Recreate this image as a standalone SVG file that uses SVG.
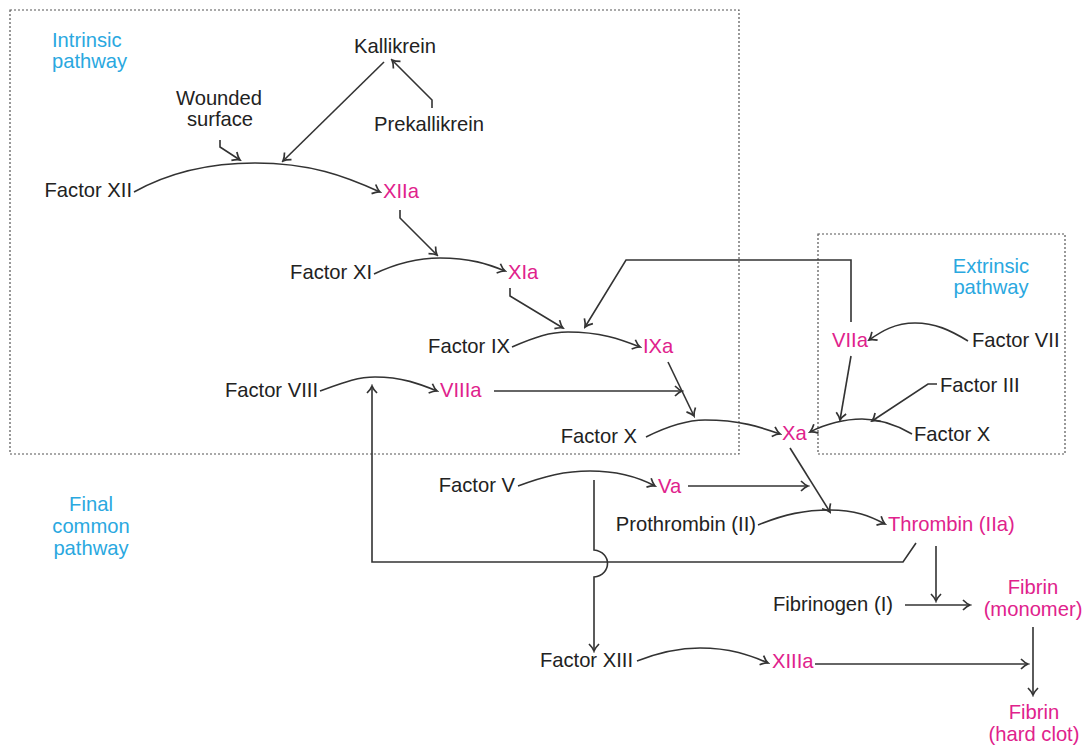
<svg xmlns="http://www.w3.org/2000/svg" width="1090" height="746" viewBox="0 0 1090 746">
<style>
text{font-family:"Liberation Sans",Arial,sans-serif;font-size:20.2px;fill:#222}
.m{fill:#e0228c}
.c{fill:#2aa8df}
.box{fill:none;stroke:#555;stroke-width:1.2;stroke-dasharray:2 2}
.ln{fill:none;stroke:#333;stroke-width:1.6}
.e{text-anchor:end}
.mid{text-anchor:middle}
</style>
<defs>
<marker id="ah" viewBox="-10 -7 12 14" refX="0" refY="0" markerWidth="12" markerHeight="14" markerUnits="userSpaceOnUse" orient="auto">
<path d="M-7,-5 Q-3,-1 0,0 Q-3,1 -7,5" fill="none" stroke="#333" stroke-width="1.7"/>
</marker>
</defs>
<rect width="1090" height="746" fill="#fff"/>
<g id="boxes">
<rect class="box" x="10" y="10" width="729" height="444"/>
<rect class="box" x="818" y="234" width="247" height="220"/>
</g>
<g id="labels">
<text class="c" x="52" y="47">Intrinsic</text>
<text class="c" x="52" y="68">pathway</text>
<text class="c mid" x="991" y="273">Extrinsic</text>
<text class="c mid" x="991" y="294">pathway</text>
<text class="c mid" x="91" y="511">Final</text>
<text class="c mid" x="91" y="533">common</text>
<text class="c mid" x="91" y="555">pathway</text>
</g>
<g id="connectors">
<path class="ln" d="M220,140 L220,147 L240,160" marker-end="url(#ah)"/>
<path class="ln" d="M384,62 L283,161" marker-end="url(#ah)"/>
<path class="ln" d="M432,108 L432,100 L392,60" marker-end="url(#ah)"/>
<path class="ln" d="M134,192 C170,172 210,163 255,163 C310,163 345,176 380,192" marker-end="url(#ah)"/>
<path class="ln" d="M400,210 L400,218 L437,255" marker-end="url(#ah)"/>
<path class="ln" d="M374,274 C395,264 415,258 440,258 C470,258 488,264 505,271" marker-end="url(#ah)"/>
<path class="ln" d="M510,288 L510,296 L563,328" marker-end="url(#ah)"/>
<path class="ln" d="M851,322 L851,260 L626,260 L585,327" marker-end="url(#ah)"/>
<path class="ln" d="M512,347 C535,337 550,332 568,332 C600,332 620,339 640,347" marker-end="url(#ah)"/>
<path class="ln" d="M320,391 C345,382 358,377 375,377 C402,377 420,384 437,391" marker-end="url(#ah)"/>
<path class="ln" d="M494,391 L682,391" marker-end="url(#ah)"/>
<path class="ln" d="M668,362 L694,416" marker-end="url(#ah)"/>
<path class="ln" d="M646,437 C670,425 688,420 705,420 C740,420 760,427 780,434" marker-end="url(#ah)"/>
<path class="ln" d="M968,341 C950,330 935,323 915,323 C895,323 882,331 869,340" marker-end="url(#ah)"/>
<path class="ln" d="M851,356 L840,420" marker-end="url(#ah)"/>
<path class="ln" d="M937,384 L928,384 L872,421" marker-end="url(#ah)"/>
<path class="ln" d="M912,434 C895,424 880,419 862,419 C845,419 825,424 810,432" marker-end="url(#ah)"/>
<path class="ln" d="M790,448 L830,512" marker-end="url(#ah)"/>
<path class="ln" d="M518,486 C545,476 565,471 590,471 C620,471 640,478 655,486" marker-end="url(#ah)"/>
<path class="ln" d="M688,486 L808,486" marker-end="url(#ah)"/>
<path class="ln" d="M758,525 C785,514 805,510 830,510 C855,510 870,516 885,524" marker-end="url(#ah)"/>
<path class="ln" d="M916,543 L903,562 L372,562 L372,386" marker-end="url(#ah)"/>
<path class="ln" d="M594,480 L594,550 C612,552 612,575 594,577 L594,651" marker-end="url(#ah)"/>
<path class="ln" d="M936,546 L936,601" marker-end="url(#ah)"/>
<path class="ln" d="M905,605 L970,605" marker-end="url(#ah)"/>
<path class="ln" d="M1033,627 L1033,695" marker-end="url(#ah)"/>
<path class="ln" d="M637,661 C660,652 680,648 700,648 C730,648 750,655 768,663" marker-end="url(#ah)"/>
<path class="ln" d="M815,664 L1028,664" marker-end="url(#ah)"/>
</g>
<g id="kallikrein"><text class="mid" x="395" y="53">Kallikrein</text></g>
<g id="wounded"><text class="mid" x="219" y="105">Wounded</text><text class="mid" x="220" y="126">surface</text></g>
<g id="prekallikrein"><text class="mid" x="429" y="131">Prekallikrein</text></g>
<g id="f12"><text class="e" x="132" y="197">Factor XII</text></g>
<g id="f12a"><text class="m" x="383" y="198">XIIa</text></g>
<g id="f11"><text class="e" x="372" y="279">Factor XI</text></g>
<g id="f11a"><text class="m" x="508" y="279">XIa</text></g>
<g id="f9"><text class="e" x="510" y="353">Factor IX</text></g>
<g id="f9a"><text class="m" x="643" y="353">IXa</text></g>
<g id="f8"><text class="e" x="318" y="397">Factor VIII</text></g>
<g id="f8a"><text class="m" x="440" y="397">VIIIa</text></g>
<g id="f10"><text class="e" x="637" y="443">Factor X</text></g>
<g id="f10a"><text class="m" x="782" y="440">Xa</text></g>
<g id="f7a"><text class="m" x="832" y="347">VIIa</text></g>
<g id="f7"><text x="972" y="347">Factor VII</text></g>
<g id="f3"><text x="940" y="392">Factor III</text></g>
<g id="f10r"><text x="914" y="441">Factor X</text></g>
<g id="f5"><text class="e" x="515" y="492">Factor V</text></g>
<g id="f5a"><text class="m" x="658" y="493">Va</text></g>
<g id="f2"><text class="e" x="756" y="531">Prothrombin (II)</text></g>
<g id="f2a"><text class="m" x="888" y="531">Thrombin (IIa)</text></g>
<g id="f1"><text class="e" x="893" y="611">Fibrinogen (I)</text></g>
<g id="fibrinmono"><text class="m mid" x="1033" y="594">Fibrin</text><text class="m mid" x="1033" y="616">(monomer)</text></g>
<g id="f13"><text class="e" x="633" y="667">Factor XIII</text></g>
<g id="f13a"><text class="m" x="772" y="668">XIIIa</text></g>
<g id="fibrinclot"><text class="m mid" x="1034" y="719">Fibrin</text><text class="m mid" x="1034" y="741">(hard clot)</text></g>
</svg>
